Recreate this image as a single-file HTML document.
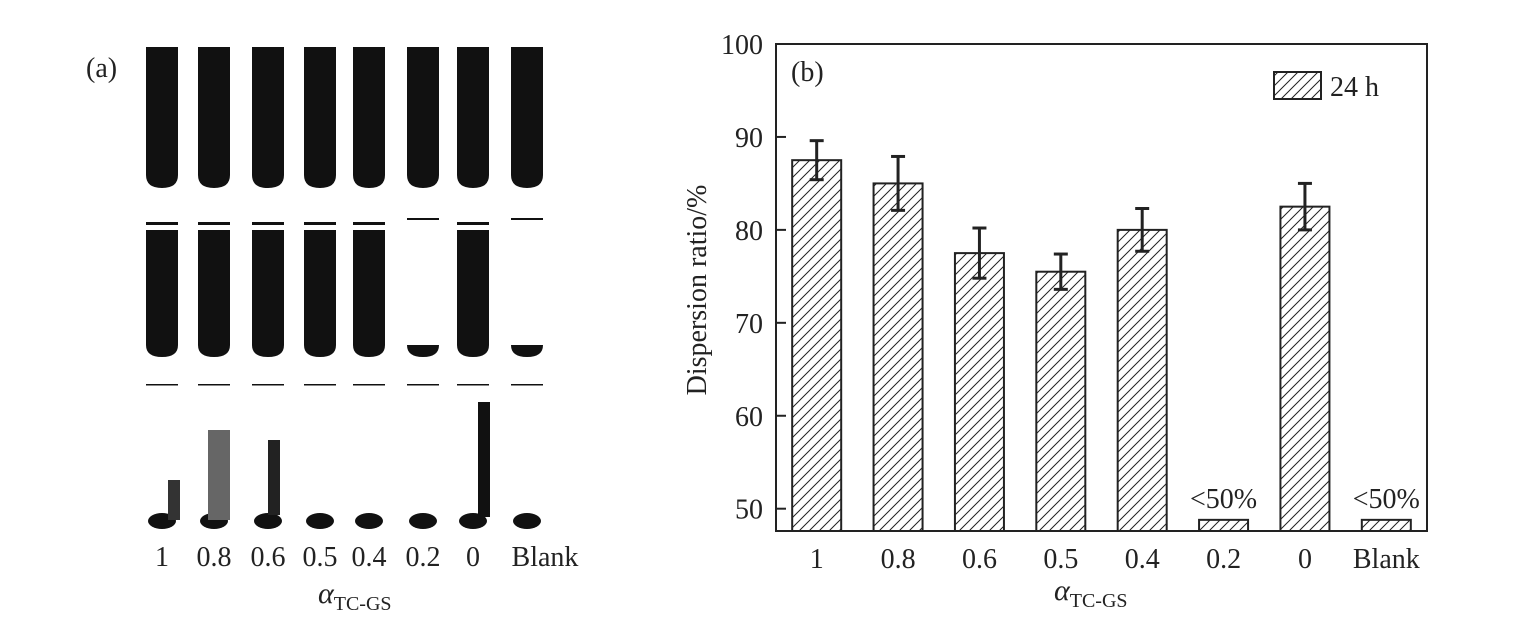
<!DOCTYPE html>
<html><head><meta charset="utf-8"><style>
body{margin:0;background:#fff}
svg{display:block;font-family:"Liberation Serif",serif}
</style></head><body>
<svg width="1517" height="626" viewBox="0 0 1517 626">
<defs>
<pattern id="hatch" patternUnits="userSpaceOnUse" width="10" height="10">
<path d="M-2,12 L12,-2 M-2,2 L2,-2 M8,12 L12,8" stroke="#222" stroke-width="1"/>
</pattern>
</defs>
<g id="panelA">
<text x="86" y="77" font-size="28" fill="#222">(a)</text>
</g>
<g id="panelB">
<text x="791" y="81" font-size="28" fill="#222">(b)</text>
</g>
</svg>
<script>
const categories=["1","0.8","0.6","0.5","0.4","0.2","0","Blank"];
const values=[87.5,85,77.5,75.5,80,48.8,82.5,48.8];
const errors=[2.1,2.9,2.7,1.9,2.3,0,2.5,0];
const notes=["","","","","","<50%","","<50%"];
const yTicks=[50,60,70,80,90,100];
const NS="http://www.w3.org/2000/svg";
const svg=document.querySelector('svg');
const gB=document.getElementById('panelB'), gA=document.getElementById('panelA');
function mk(tag,attrs,parent){const e=document.createElementNS(NS,tag);for(const k in attrs)e.setAttribute(k,attrs[k]);(parent||svg).appendChild(e);return e;}
const L=776,R=1427,T=44,B=531,yMin=47.6,yMax=100;
const y=v=>B-(v-yMin)/(yMax-yMin)*(B-T);
const band=(R-L)/categories.length;
const xc=i=>L+band*(i+0.5);
const bw=49;
categories.forEach((c,i)=>{
  const r=mk('rect',{x:xc(i)-bw/2,y:y(values[i]),width:bw,height:B-y(values[i]),fill:'url(#hatch)',stroke:'#222','stroke-width':2},gB);
  
  
  if(errors[i]>0){
    const g=mk('g',{stroke:'#222','stroke-width':3},gB);
    
    
    mk('line',{x1:xc(i),x2:xc(i),y1:y(values[i]+errors[i]),y2:y(values[i]-errors[i])},g);
    mk('line',{x1:xc(i)-7,x2:xc(i)+7,y1:y(values[i]+errors[i]),y2:y(values[i]+errors[i])},g);
    mk('line',{x1:xc(i)-7,x2:xc(i)+7,y1:y(values[i]-errors[i]),y2:y(values[i]-errors[i])},g);
  }
  if(notes[i]){
    const t=mk('text',{x:xc(i),y:y(values[i])-12,'font-size':28,'text-anchor':'middle',fill:'#222'},gB);
    t.textContent=notes[i];
    
    
  }
  const t=mk('text',{x:xc(i),y:568,'font-size':28,'text-anchor':'middle',fill:'#222'},gB);
  t.textContent=c;
  
  
});
const box=mk('rect',{x:L,y:T,width:R-L,height:B-T,fill:'none',stroke:'#222','stroke-width':2},gB);


yTicks.forEach(v=>{
  if(v<100){const l=mk('line',{x1:L,x2:L+10,y1:y(v),y2:y(v),stroke:'#222','stroke-width':2},gB);
  
  }
  const t=mk('text',{x:L-13,y:y(v)+10,'font-size':28,'text-anchor':'end',fill:'#222'},gB);
  t.textContent=v;
  
  
});
const yt=mk('text',{x:0,y:0,'font-size':28,'text-anchor':'middle',fill:'#222',transform:'translate(706,290) rotate(-90)'},gB);
yt.textContent='Dispersion ratio/%';


function alpha(x,yy,name,parent){
  const t=mk('text',{x:x,y:yy,'font-size':30,fill:'#222'},parent);
  t.innerHTML='<tspan font-style="italic">α</tspan><tspan font-size="20" dy="7">TC-GS</tspan>';
  
  
}
alpha(1054,600,'x-axis-title',gB);
const lg=mk('g',{},gB);


mk('rect',{x:1274,y:72,width:47,height:27,fill:'url(#hatch)',stroke:'#222','stroke-width':2},lg);
const lt=mk('text',{x:1330,y:96,'font-size':28,fill:'#222'},lg);lt.textContent='24 h';

const tubeX=[162,214,268,320,369,423,473,527];
const tw=32;
tubeX.forEach((cx,i)=>{
  const g=mk('g',{fill:'#111'},gA);
  
  
  mk('path',{d:`M${cx-tw/2},47 h${tw} v128 q0,13 -${tw/2},13 q-${tw/2},0 -${tw/2},-13 z`},g);
  if(i===5||i===7){
    mk('rect',{x:cx-tw/2,y:218,width:tw,height:2},g);
    mk('path',{d:`M${cx-tw/2},345 h${tw} q0,12 -${tw/2},12 q-${tw/2},0 -${tw/2},-12 z`},g);
  } else {
    mk('rect',{x:cx-tw/2,y:222,width:tw,height:3},g);
    mk('path',{d:`M${cx-tw/2},230 h${tw} v115 q0,12 -${tw/2},12 q-${tw/2},0 -${tw/2},-12 z`},g);
  }
  mk('ellipse',{cx:cx,cy:521,rx:tw/2-2,ry:8},g);
  mk('rect',{x:cx-tw/2,y:384,width:tw,height:1.5},g);
});
const s1=mk('rect',{x:478,y:402,width:12,height:115,fill:'#111'},gA);


const s2=mk('rect',{x:168,y:480,width:12,height:40,fill:'#333'},gA);


const s3=mk('rect',{x:208,y:430,width:22,height:90,fill:'#666'},gA);


const s4=mk('rect',{x:268,y:440,width:12,height:75,fill:'#222'},gA);


tubeX.forEach((cx,i)=>{
  const t=mk('text',{x:i===7?545:cx,y:566,'font-size':28,'text-anchor':'middle',fill:'#222'},gA);
  t.textContent=categories[i];
  
  
});
alpha(318,603,'panel-a-axis-title',gA);
</script>
</body></html>
